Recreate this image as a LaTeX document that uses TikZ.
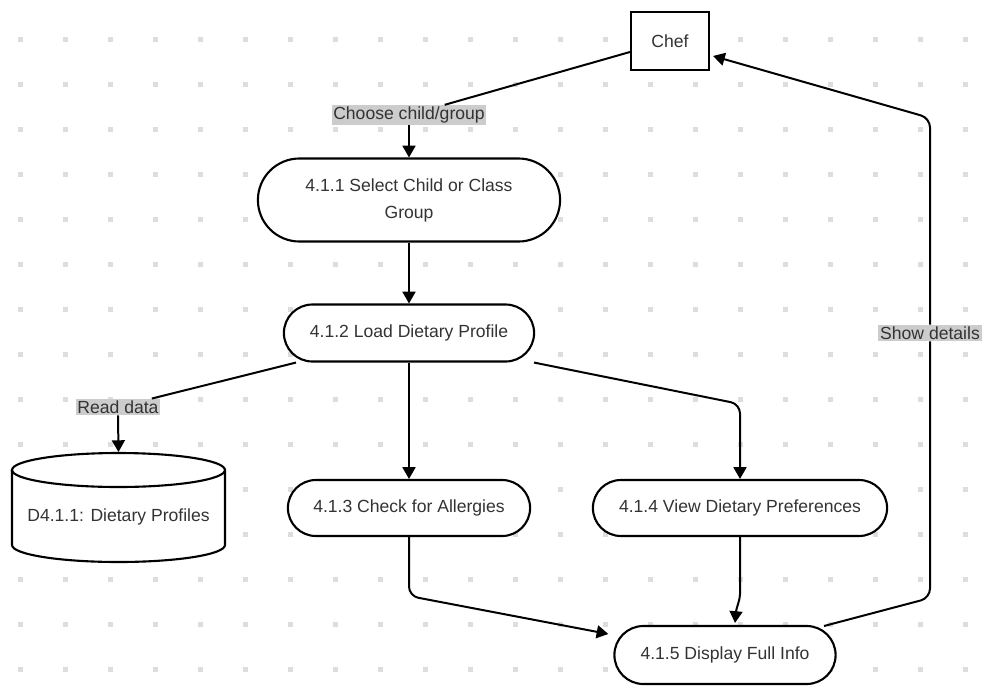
\documentclass[tikz,border=0pt]{standalone}
\usepackage{fontspec}
\setmainfont{Liberation Sans}
\usetikzlibrary{shapes.misc,arrows.meta,positioning,calc}

\definecolor{txtgrey}{HTML}{333333}
\definecolor{lblgrey}{HTML}{CCCCCC}
\definecolor{dotgrey}{HTML}{DDDDDD}
\newcommand{\pxu}{0.03cm}

\begin{document}
\begin{tikzpicture}[x=0.03cm, y=-0.03cm,
  font=\fontsize{15}{23}\selectfont,
  every node/.style={text=txtgrey},
  process/.style={rounded rectangle, draw=black, line width=1.8pt, fill=white, align=center},
  entity/.style={rectangle, draw=black, line width=1.8pt, fill=white},
  flowlabel/.style={fill=lblgrey, inner sep=1.5pt},
  flow/.style={line width=1.7pt, rounded corners=8pt},
  flowarrow/.style={flow, -{Triangle[length=10pt, width=11pt]}},
  canarc/.style={x radius=3.195cm, y radius=0.51cm}]

\useasboundingbox (0,0) rectangle (1003,694);

% Dot grid background
\foreach \i in {0,...,21}
  \foreach \j in {0,...,14}
    \fill[dotgrey] ($(20+45*\i,39+45*\j)+(-2.5,-2.5)$) rectangle +(5,5);

% External entity
\node[entity, minimum width=78*\pxu, minimum height=58*\pxu] (chef) at (670,41) {Chef};

% Processes
\node[process, minimum width=310*\pxu, minimum height=83*\pxu] (p411) at (409,200) {4.1.1 Select Child or Class\\Group};
\node[process, minimum width=258*\pxu, minimum height=57*\pxu] (p412) at (409,333) {4.1.2 Load Dietary Profile};
\node[process, minimum width=250*\pxu, minimum height=56*\pxu] (p413) at (409,508) {4.1.3 Check for Allergies};
\node[process, minimum width=302*\pxu, minimum height=56*\pxu] (p414) at (740,508) {4.1.4 View Dietary Preferences};
\node[process, minimum width=229*\pxu, minimum height=58*\pxu] (p415) at (725,655) {4.1.5 Display Full Info};

% Data store (cylinder)
\draw[line width=1.8pt, fill=white] (12,470) -- (12,545) arc[canarc, start angle=180, end angle=360]
  -- (225,470) arc[canarc, start angle=0, end angle=180] -- cycle;
\draw[line width=1.8pt] (12,470) arc[canarc, start angle=180, end angle=360];
\coordinate (d411top) at (118.5,452);
\node (d411) at (118.5,517) {D4.1.1: Dietary Profiles};

% Flows
\node[flowlabel] (lchoose) at (409,115) {Choose child/group};
\node[flowlabel] (lread) at (118,407) {Read data};
\node[flowlabel] (lshow) at (930,333) {Show details};

\draw[flow] ($(chef.west)+(0,11)$) -- (lchoose);
\draw[flowarrow] (lchoose.south) -- (p411.north);
\draw[flowarrow] (p411.south) -- (p412.north);
\draw[flow] ($(p412.south)+(-113,0)$) -- (lread);
\draw[flowarrow] (lread.south) -- (d411top);
\draw[flowarrow] (p412.south) -- (p413.north);
\draw[flowarrow] ($(p412.south)+(125,0)$) -- (740,404) -- (p414.north);
\draw[flowarrow] (p413.south) -- (409,596) -- ($(p415.west)+(-5,-21)$);
\draw[flowarrow] (p414.south) -- (740,585) to[out=270,in=85] ($(p415.north)+(10,-2)$);
\draw[flow] ($(p415.center)+(99,-29)$) -- (930,598) -- (lshow);
\draw[flowarrow] (lshow.north) -- (930,118) -- ($(chef.east)+(3,15)$);

\end{tikzpicture}
\end{document}
